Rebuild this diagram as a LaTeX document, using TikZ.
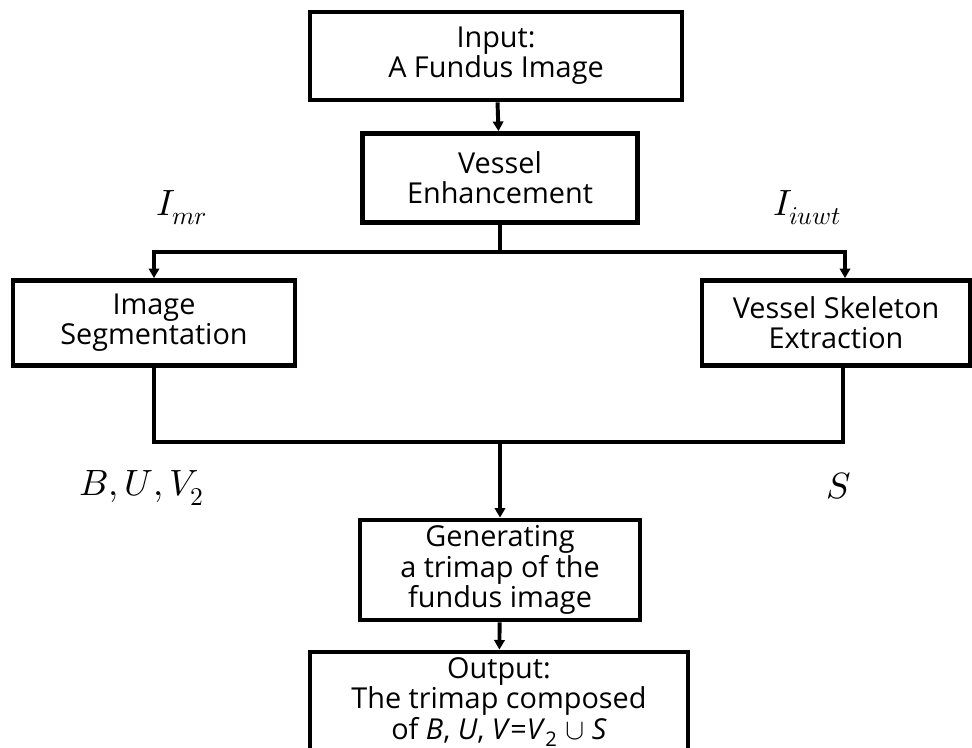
\documentclass[tikz,border=0pt]{standalone}
\usepackage{fontspec}
\setmainfont{Open Sans}
\usepackage{unicode-math}
\usetikzlibrary{arrows.meta,positioning,calc}

\begin{document}
\begin{tikzpicture}[x=0.025cm, y=-0.025cm, >={Triangle[length=2.4mm,width=2.6mm]},
      font=\fontsize{20.5}{21.5}\selectfont,
      box/.style 2 args={draw, line width=3.4pt, align=center, inner sep=0pt,
        minimum width=#1*0.025cm, minimum height=#2*0.025cm},
      link/.style={line width=2.8pt},
      lab/.style={font=\fontsize{26}{28}\selectfont}]
      \useasboundingbox (0,0) rectangle (972,748);
      \node[box={372}{88}]  (inp)  at (496,56)  {Input:\\A Fundus Image};
      \node[box={275}{89}]  (enh)  at (500,178) {Vessel\\Enhancement};
      \node[box={282}{85}]  (seg)  at (154,323) {Image\\Segmentation};
      \node[box={268}{85}]  (skel) at (836,323) {Vessel Skeleton\\Extraction};
      \node[box={280}{100}] (gen)  at (500,570) {Generating\\a trimap of the\\fundus image};
      \node[box={378}{100}] (out)  at (499,702)
            {Output:\\The trimap composed\\of \textit{B}, \textit{U}, \textit{V}=\textit{V}\textsubscript{2} $\cup$ \textit{S}};
      \coordinate (split) at (500,252);
      \coordinate (join)  at (500,442);
      \draw[link] (enh) -- (split);
      \draw[link,->] (split) -| (seg.north);
      \draw[link,->] (split) -| ([xshift=0.225cm]skel.north);
      \draw[link] (seg.south) |- (join) -| ([xshift=0.175cm]skel.south);
      \draw[link,->] (join) -- (gen);
      \draw[link,->] (inp) -- (enh);
      \draw[link,->] (gen) -- (out);
      \node[lab] (imr)  at (182,208) {$I_{mr}$};
      \node[lab] (iuwt) at (807,208) {$I_{iuwt}$};
      \node[lab] (buv)  at (142,488) {$B,U,V_2$};
      \node[lab] (s)    at (839,486) {$S$};
\end{tikzpicture}
\end{document}
